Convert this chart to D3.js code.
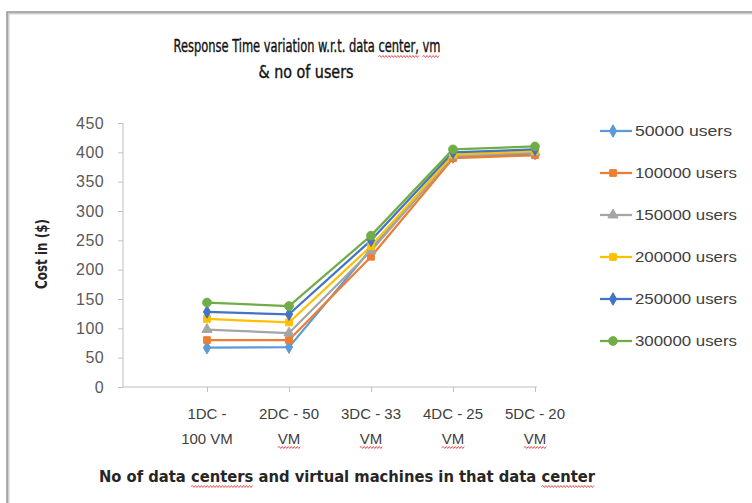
<!DOCTYPE html>
<html><head><meta charset="utf-8">
<script src="https://cdn.jsdelivr.net/npm/d3@7"></script>
<style>
html,body{margin:0;padding:0;background:#fff;}
svg{display:block;}
</style></head>
<body>
<svg id="chart" width="752" height="503"></svg>
<script>
const categoriesLine1 = ["1DC -", "2DC - 50", "3DC - 33", "4DC - 25", "5DC - 20"];
const categoriesLine2 = ["100 VM", "VM", "VM", "VM", "VM"];
const seriesNames = ["50000 users", "100000 users", "150000 users", "200000 users", "250000 users", "300000 users"];
const users50000  = [67, 68, 235, 392, 398];
const users100000 = [80, 80, 222, 390, 395];
const users150000 = [98, 92, 232, 394, 400];
const users200000 = [116, 110, 240, 396, 402];
const users250000 = [128, 124, 250, 400, 405];
const users300000 = [144, 138, 258, 405, 410];
const yTicks = [0, 50, 100, 150, 200, 250, 300, 350, 400, 450];

const seriesValues = [users50000, users100000, users150000, users200000, users250000, users300000];
const colors = ["#5B9BD5", "#ED7D31", "#A5A5A5", "#FFC000", "#4472C4", "#70AD47"];
const symbols = [d3.symbolDiamond, d3.symbolSquare, d3.symbolTriangle, d3.symbolSquare, d3.symbolDiamond, d3.symbolCircle];

const svg = d3.select("#chart");

// outer chart border
svg.append("rect").attr("x", 8).attr("y", 13).attr("width", 800).attr("height", 600)
  .attr("fill", "none").attr("stroke", "#d0d0d0").attr("stroke-width", 3);
svg.append("rect").attr("x", 7).attr("y", 12).attr("width", 800).attr("height", 600)
  .attr("fill", "none").attr("stroke", "#8c8c8c").attr("stroke-width", 1.2);

const x = d3.scalePoint().domain(categoriesLine1).range([207, 535]);
const y = d3.scaleLinear().domain([0, 450]).range([387, 123]);
const axisLeftX = 123, axisRightX = 537;

// y axis
const yAxis = d3.axisLeft(y).tickValues(yTicks).tickSize(5).tickPadding(14);
const gy = svg.append("g").attr("transform", `translate(${axisLeftX},0)`).call(yAxis);
gy.select(".domain").attr("stroke", "#bfbfbf").attr("d", `M-0,${y(450)}V${y(0)}`);
gy.selectAll(".tick line").attr("stroke", "#bfbfbf");
gy.selectAll(".tick text").attr("font-family", "Liberation Sans, Arial, sans-serif")
  .attr("font-size", 16).attr("letter-spacing", 0.4).attr("fill", "#595959");

// x axis
svg.append("line").attr("x1", axisLeftX).attr("x2", axisRightX).attr("y1", y(0)).attr("y2", y(0))
  .attr("stroke", "#bfbfbf").attr("stroke-width", 1);
const gx = svg.append("g").attr("transform", `translate(0,${y(0)})`)
  .call(d3.axisBottom(x).tickSize(5).tickFormat(""));
gx.select(".domain").remove();
gx.selectAll(".tick line").attr("stroke", "#bfbfbf");

const xl = svg.append("g");
categoriesLine1.forEach((c, i) => {
  xl.append("text").attr("x", x(c)).attr("y", 419).attr("text-anchor", "middle")
    .attr("font-family", "Liberation Sans, Arial, sans-serif").attr("font-size", 15).attr("fill", "#404040")
    .text(c);
  xl.append("text").attr("class", "l2").attr("x", x(c)).attr("y", 444).attr("text-anchor", "middle")
    .attr("font-family", "Liberation Sans, Arial, sans-serif").attr("font-size", 15).attr("fill", "#404040")
    .text(categoriesLine2[i]);
});

// lines and markers
const line = d3.line().x((d, i) => x(categoriesLine1[i])).y(d => y(d));
seriesValues.forEach((vals, s) => {
  svg.append("path").datum(vals).attr("d", line).attr("fill", "none")
    .attr("stroke", colors[s]).attr("stroke-width", 2.25).attr("stroke-linejoin", "round");
});
seriesValues.forEach((vals, s) => {
  svg.append("g").selectAll("path").data(vals).join("path")
    .attr("transform", (d, i) => `translate(${x(categoriesLine1[i])},${y(d)})`)
    .attr("d", d3.symbol().type(symbols[s]).size(s === 5 ? 60 : 45))
    .attr("fill", colors[s]).attr("stroke", colors[s]).attr("stroke-width", 1);
});

// legend
const lg = svg.append("g");
seriesNames.forEach((n, s) => {
  const ly = 131 + s * 42;
  lg.append("line").attr("x1", 600).attr("x2", 632).attr("y1", ly).attr("y2", ly)
    .attr("stroke", colors[s]).attr("stroke-width", 2.25);
  lg.append("path").attr("transform", `translate(613,${ly})`)
    .attr("d", d3.symbol().type(symbols[s]).size(s === 5 ? 60 : 45))
    .attr("fill", colors[s]).attr("stroke", colors[s]);
  lg.append("text").attr("x", 635).attr("y", ly + 5)
    .attr("font-family", "Liberation Sans, Arial, sans-serif").attr("font-size", 15).attr("fill", "#404040")
    .attr("textLength", s === 0 ? 97 : 102).attr("lengthAdjust", "spacingAndGlyphs")
    .text(n);
});

// titles
const t1 = svg.append("text").attr("x", 307).attr("y", 52).attr("text-anchor", "middle")
  .attr("font-family", "DejaVu Sans Condensed, sans-serif").attr("font-size", 17).attr("fill", "#111")
  .attr("stroke", "#111").attr("stroke-width", 0.35)
  .attr("textLength", 267).attr("lengthAdjust", "spacingAndGlyphs")
  .text("Response Time variation w.r.t. data center, vm");
const t2 = svg.append("text").attr("x", 306).attr("y", 78).attr("text-anchor", "middle")
  .attr("font-family", "DejaVu Sans Condensed, sans-serif").attr("font-size", 17).attr("fill", "#111")
  .attr("stroke", "#111").attr("stroke-width", 0.35)
  .attr("textLength", 95).attr("lengthAdjust", "spacingAndGlyphs")
  .text("& no of users");

svg.append("text").attr("transform", "translate(47,254) rotate(-90)").attr("text-anchor", "middle")
  .attr("font-family", "DejaVu Sans Condensed, sans-serif").attr("font-weight", "bold").attr("font-size", 15)
  .attr("fill", "#262626").attr("textLength", 70).attr("lengthAdjust", "spacingAndGlyphs")
  .text("Cost in ($)");

const xt = svg.append("text").attr("x", 347).attr("y", 482).attr("text-anchor", "middle")
  .attr("font-family", "DejaVu Sans Condensed, sans-serif").attr("font-weight", "bold").attr("font-size", 15)
  .attr("fill", "#262626").attr("textLength", 496).attr("lengthAdjust", "spacingAndGlyphs")
  .text("No of data centers and virtual machines in that data center");

// spell-check style wavy underlines
function wavy(textNode, word, fromEnd) {
  const s = textNode.textContent;
  const idx = fromEnd ? s.lastIndexOf(word) : s.indexOf(word);
  if (idx < 0) return;
  const a = textNode.getExtentOfChar(idx);
  const b = textNode.getExtentOfChar(idx + word.length - 1);
  const x0 = a.x, x1 = b.x + b.width, yy = a.y + a.height + 0.5;
  let d = `M${x0},${yy}`;
  let up = true;
  for (let xx = x0 + 1.5; xx <= x1; xx += 1.5) { d += `L${xx},${yy + (up ? -1 : 1)}`; up = !up; }
  svg.append("path").attr("d", d).attr("fill", "none").attr("stroke", "#e03030").attr("stroke-width", 0.8);
}
wavy(t1.node(), "center,");
wavy(t1.node(), "vm");
xl.selectAll("text.l2").each(function() { if (this.textContent === "VM") wavy(this, "VM"); });
wavy(xt.node(), "centers");
wavy(xt.node(), "center", true);
</script>
</body></html>
